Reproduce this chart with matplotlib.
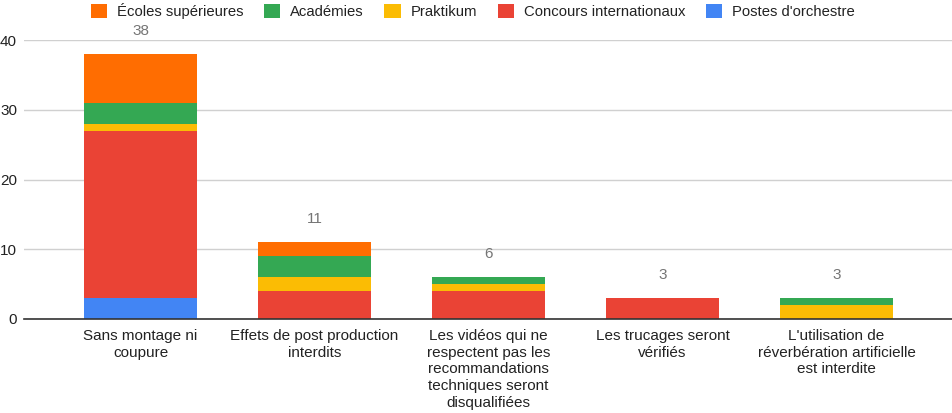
import matplotlib
matplotlib.use("Agg")
import matplotlib.pyplot as plt
import numpy as np

plt.rcParams['font.family'] = ['Liberation Sans', 'DejaVu Sans']

categories = [
    "Sans montage ni\ncoupure",
    "Effets de post production\ninterdits",
    "Les vidéos qui ne\nrespectent pas les\nrecommandations\ntechniques seront\ndisqualifiées",
    "Les trucages seront\nvérifiés",
    "L'utilisation de\nréverbération artificielle\nest interdite",
]
postes = [3, 0, 0, 0, 0]
concours = [24, 4, 4, 3, 0]
praktikum = [1, 2, 1, 0, 2]
academies = [3, 3, 1, 0, 1]
ecoles = [7, 2, 0, 0, 0]

series = [
    ("Postes d'orchestre", postes, "#4285F4"),
    ("Concours internationaux", concours, "#EA4335"),
    ("Praktikum", praktikum, "#FBBC04"),
    ("Académies", academies, "#34A853"),
    ("Écoles supérieures", ecoles, "#FF6D01"),
]

fig = plt.figure(figsize=(9.53, 4.13), dpi=100)
ax = fig.add_axes([24/953, 1-319/413, 929/953, (319-40)/413])

x = np.arange(len(categories))
bottom = np.zeros(len(categories))
handles = {}
for name, vals, color in series:
    v = np.array(vals, dtype=float)
    b = ax.bar(x, v, 0.65, bottom=bottom, color=color, label=name, zorder=3,
               edgecolor='none')
    handles[name] = b
    bottom += v

totals = bottom
for xi, t in zip(x, totals):
    ax.annotate(f"{int(t)}", (xi, t), xytext=(0, 11.5), textcoords='offset points',
                ha='center', va='bottom', color='#757575', fontsize=11)

ax.set_xlim(-0.67, 4.67)
ax.set_ylim(0, 40)
ax.set_yticks([0, 10, 20, 30, 40])
ax.grid(axis='y', color='#d0d0d0', linewidth=1, zorder=0)
for s in ['top', 'right', 'left']:
    ax.spines[s].set_visible(False)
ax.spines['bottom'].set_color('#333333')
ax.spines['bottom'].set_linewidth(1.2)
ax.spines['bottom'].set_zorder(4)
ax.tick_params(axis='both', length=0, labelsize=11, colors='#222222')
ax.tick_params(axis='y', pad=5)
ax.set_xticks(x)
ax.set_xticklabels(categories, linespacing=1.26, va='top')
ax.tick_params(axis='x', pad=7)

order = ["Écoles supérieures", "Académies", "Praktikum", "Concours internationaux", "Postes d'orchestre"]
fig.legend([handles[n] for n in order], order, loc='upper center',
           bbox_to_anchor=(0.496, 1.025), ncol=5, frameon=False, fontsize=10.7,
           handlelength=1.1, handleheight=1.1, handletextpad=0.65, columnspacing=1.4,
           labelcolor='#222222')

fig.savefig("out.png", dpi=100)
